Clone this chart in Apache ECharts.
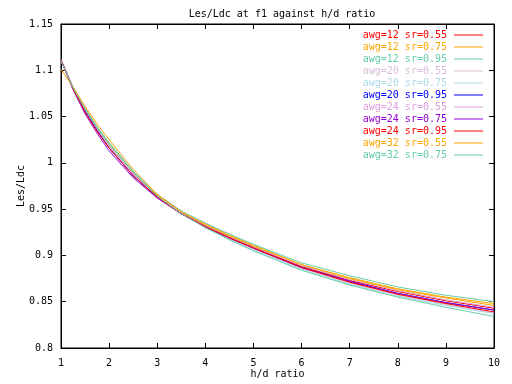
<!DOCTYPE html>
<html>
<head>
<meta charset="utf-8">
<script src="https://cdn.jsdelivr.net/npm/echarts@6/dist/echarts.min.js"></script>
<style>html,body{margin:0;padding:0;background:#fff}#c{width:512px;height:384px}</style>
</head>
<body>
<div id="c"></div>
<script>
var xs = [1, 1.25, 1.5, 1.75, 2, 2.5, 3, 3.5, 4, 4.5, 5, 6, 7, 8, 9, 10];
var names = ["awg=12 sr=0.55","awg=12 sr=0.75","awg=12 sr=0.95","awg=20 sr=0.55","awg=20 sr=0.75","awg=20 sr=0.95","awg=24 sr=0.55","awg=24 sr=0.75","awg=24 sr=0.95","awg=32 sr=0.55","awg=32 sr=0.75"];
var colors = ["#ff0000","#ffa500","#66cdaa","#d8bfd8","#add8e6","#0000ff","#dda0dd","#9400d3","#ff0000","#ffa500","#66cdaa"];
var s1  = [1.111,1.081,1.057,1.036,1.018,0.988,0.964,0.946,0.932,0.920,0.909,0.888,0.873,0.861,0.851,0.843];
var s2  = [1.110,1.082,1.059,1.039,1.021,0.990,0.965,0.947,0.934,0.922,0.911,0.890,0.876,0.864,0.855,0.848];
var s3  = [1.110,1.082,1.059,1.039,1.022,0.991,0.966,0.948,0.935,0.923,0.912,0.892,0.878,0.866,0.857,0.850];
var s4  = [1.111,1.080,1.056,1.035,1.017,0.987,0.963,0.945,0.931,0.918,0.907,0.886,0.870,0.857,0.847,0.838];
var s5  = [1.110,1.080,1.056,1.035,1.017,0.987,0.963,0.945,0.930,0.917,0.906,0.885,0.869,0.856,0.846,0.837];
var s6  = [1.111,1.081,1.056,1.035,1.016,0.986,0.963,0.945,0.931,0.919,0.908,0.887,0.872,0.859,0.849,0.841];
var s7  = [1.112,1.082,1.058,1.037,1.018,0.988,0.964,0.946,0.932,0.920,0.909,0.889,0.874,0.862,0.852,0.844];
var s8  = [1.111,1.079,1.053,1.032,1.013,0.984,0.962,0.945,0.931,0.919,0.908,0.887,0.872,0.859,0.849,0.841];
var s9  = [1.111,1.080,1.055,1.034,1.016,0.986,0.963,0.945,0.931,0.919,0.908,0.887,0.871,0.858,0.848,0.839];
var s10 = [1.101,1.082,1.061,1.042,1.025,0.993,0.966,0.947,0.933,0.921,0.910,0.890,0.875,0.863,0.854,0.846];
var s11 = [1.110,1.081,1.058,1.038,1.020,0.990,0.964,0.945,0.930,0.917,0.905,0.884,0.868,0.855,0.844,0.834];
var yTicks = [0.8, 0.85, 0.9, 0.95, 1, 1.05, 1.1, 1.15];
var allSeries = [s1,s2,s3,s4,s5,s6,s7,s8,s9,s10,s11];

var FONT = "DejaVu Sans Mono";
var series = allSeries.map(function(vals, i){
  return {
    name: names[i], type: 'line', symbol: 'none', smooth: false,
    lineStyle: {color: colors[i], width: 1}, itemStyle: {color: colors[i]},
    data: xs.map(function(x, j){ return [x, vals[j]]; }),
    z: 2 + i, animation: false
  };
});
var tickStyle = {show: true, inside: true, length: 5, lineStyle: {color: '#000'}};
var chart = echarts.init(document.getElementById('c'), null, {renderer: 'canvas'});
chart.setOption({
  backgroundColor: '#fff',
  animation: false,
  title: {text: 'Les/Ldc at f1 against h/d ratio', left: 277, textAlign: 'center', top: 4,
    textStyle: {fontFamily: FONT, fontSize: 10, fontWeight: 'normal', color: '#000'}},
  grid: {left: 61, right: 18, top: 24, bottom: 36, show: true, borderColor: '#000', borderWidth: 1,
    containLabel: false, outerBoundsMode: 'none'},
  legend: {
    right: 29, top: 29, padding: 0, orient: 'vertical', align: 'right', itemWidth: 29, itemHeight: 1, itemGap: 0,
    icon: 'rect',
    data: names.map(function(n, i){ return {name: n, textStyle: {color: colors[i]}}; }),
    textStyle: {fontFamily: FONT, fontSize: 10, padding: [0, 2, 0, 0], lineHeight: 12},
    selectedMode: false
  },
  xAxis: [
    {type: 'value', min: 1, max: 10, interval: 1, name: 'h/d ratio', nameLocation: 'middle', nameGap: 21,
     nameMoveOverlap: false,
     nameTextStyle: {fontFamily: FONT, fontSize: 10, color: '#000'},
     axisLine: {show: true, onZero: false, lineStyle: {color: '#000'}}, axisTick: tickStyle,
     axisLabel: {fontFamily: FONT, fontSize: 10, color: '#000', margin: 10}, splitLine: {show: false}},
    {type: 'value', min: 1, max: 10, interval: 1, position: 'top',
     axisLine: {show: true, onZero: false, lineStyle: {color: '#000'}}, axisTick: tickStyle,
     axisLabel: {show: false}, splitLine: {show: false}}
  ],
  yAxis: [
    {type: 'value', min: yTicks[0], max: yTicks[yTicks.length-1], interval: 0.05, name: 'Les/Ldc', nameLocation: 'middle', nameGap: 35,
     nameMoveOverlap: false,
     nameTextStyle: {fontFamily: FONT, fontSize: 10, color: '#000'},
     axisLine: {show: true, onZero: false, lineStyle: {color: '#000'}}, axisTick: tickStyle,
     axisLabel: {fontFamily: FONT, fontSize: 10, color: '#000', margin: 8,
       formatter: function(v){ return String(Math.round(v*100)/100); }}, splitLine: {show: false}},
    {type: 'value', min: yTicks[0], max: yTicks[yTicks.length-1], interval: 0.05, position: 'right',
     axisLine: {show: true, onZero: false, lineStyle: {color: '#000'}}, axisTick: tickStyle,
     axisLabel: {show: false}, splitLine: {show: false}}
  ],
  series: series
});
</script>
</body>
</html>
